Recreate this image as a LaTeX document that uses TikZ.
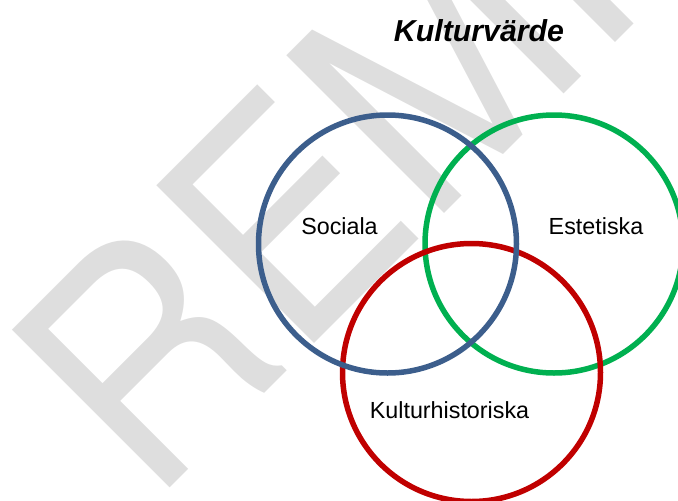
\documentclass[tikz,border=0pt]{standalone}
\usepackage{fontspec}
\setmainfont{Liberation Sans}
\newfontfamily\wmfont[FakeStretch=0.924]{TeX Gyre Heros}
\definecolor{socblue}{HTML}{3C5E8C}
\definecolor{estgreen}{HTML}{00B050}
\definecolor{kulred}{HTML}{C00000}
\definecolor{wmgray}{HTML}{DEDEDE}
\tikzset{
  venn/.style={circle, draw, line width=5.5pt, minimum size=258pt, inner sep=0pt},
  lbl/.style={anchor=base, inner sep=0pt, font=\fontsize{23.3}{28}\selectfont},
  ttl/.style={anchor=base, inner sep=0pt, font=\fontsize{30.3}{34}\selectfont\bfseries\itshape},
  wmark/.style={anchor=base west, inner sep=0pt, rotate=45, text=wmgray, font=\wmfont\fontsize{306}{306}\selectfont}
}
\begin{document}
\begin{tikzpicture}[x=1pt,y=-1pt]
\useasboundingbox (0,0) rectangle (678,501);
\begin{scope}
\clip (0,0) rectangle (678,501);
\node[wmark] (wm) at (151.6,506.4) {REMISS};
\node[venn, draw=estgreen] (est) at (554,244) {};
\node[venn, draw=kulred] (kul) at (471.5,372.5) {};
\node[venn, draw=socblue] (soc) at (387.5,244) {};
\node[lbl] (tsoc) at (339.5,234.5) {Sociala};
\node[lbl] (test) at (596,234.5) {Estetiska};
\node[lbl] (tkul) at (449.5,418.3) {Kulturhistoriska};
\node[ttl] (title) at (479,41.7) {Kulturvärde};
\end{scope}
\end{tikzpicture}
\end{document}
